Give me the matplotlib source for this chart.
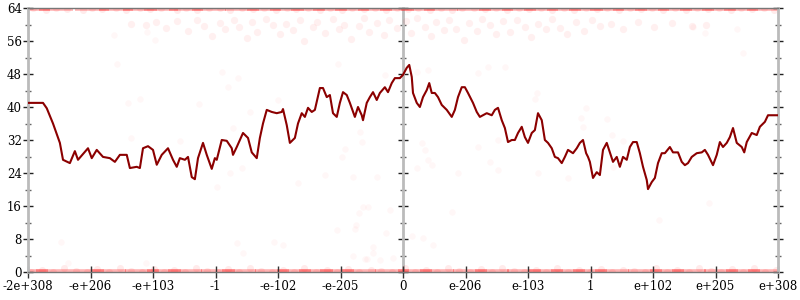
# Recreation of a symmetric log-style scatter + running line chart.

import matplotlib
matplotlib.use("Agg")
import matplotlib.pyplot as plt
from matplotlib.ticker import FixedLocator

# ─────────────────────────────────────────────
# DATA
# ─────────────────────────────────────────────
x_tick_pos = [-6, -5, -4, -3, -2, -1, 0, 1, 2, 3, 4, 5, 6]
x_tick_labels = ["-2e+308", "-e+206", "-e+103", "-1", "-e-102", "-e-205", "0",
                 "e-206", "e-103", "1", "e+102", "e+205", "e+308"]
y_major = [0, 8, 16, 24, 32, 40, 48, 56, 64]
y_minor = [4, 12, 20, 28, 36, 44, 52, 60]

# running line (dark red)
line_x = [-6.00, -5.76, -5.70, -5.60, -5.49, -5.44, -5.33, -5.25, -5.20, -5.04,
          -4.98, -4.90, -4.80, -4.69, -4.61, -4.53, -4.42, -4.37, -4.26, -4.21,
          -4.16, -4.08, -4.00, -3.94, -3.86, -3.76, -3.68, -3.62, -3.57, -3.49,
          -3.44, -3.38, -3.33, -3.28, -3.20, -3.14, -3.06, -3.01, -2.98, -2.90,
          -2.82, -2.74, -2.72, -2.66, -2.56, -2.48, -2.42, -2.34, -2.29, -2.24,
          -2.18, -2.10, -2.02, -1.94, -1.92, -1.86, -1.81, -1.73, -1.68, -1.62,
          -1.57, -1.52, -1.46, -1.41, -1.33, -1.28, -1.22, -1.17, -1.12, -1.06,
          -1.01, -0.96, -0.90, -0.85, -0.77, -0.72, -0.66, -0.64, -0.58, -0.53,
          -0.48, -0.42, -0.37, -0.29, -0.24, -0.18, -0.13, -0.05, 0.00, 0.06,
          0.10, 0.14, 0.16, 0.22, 0.27, 0.32, 0.38, 0.42, 0.46, 0.51,
          0.56, 0.62, 0.70, 0.78, 0.83, 0.88, 0.94, 0.99, 1.04, 1.12,
          1.18, 1.23, 1.28, 1.34, 1.42, 1.47, 1.52, 1.58, 1.63, 1.68,
          1.74, 1.79, 1.84, 1.90, 1.95, 2.00, 2.06, 2.11, 2.16, 2.22,
          2.27, 2.32, 2.38, 2.43, 2.48, 2.54, 2.59, 2.64, 2.72, 2.78,
          2.83, 2.88, 2.93, 2.96, 2.99, 3.04, 3.10, 3.15, 3.20, 3.26,
          3.31, 3.36, 3.42, 3.47, 3.52, 3.58, 3.63, 3.68, 3.74, 3.79,
          3.84, 3.90, 3.92, 3.98, 4.03, 4.08, 4.14, 4.19, 4.27, 4.32,
          4.40, 4.46, 4.51, 4.56, 4.62, 4.70, 4.78, 4.83, 4.88, 4.96,
          5.02, 5.07, 5.12, 5.18, 5.23, 5.28, 5.34, 5.42, 5.46, 5.50,
          5.58, 5.66, 5.71, 5.79, 5.84, 6.00]
line_y = [41.0, 41.0, 39.7, 36.0, 31.3, 27.2, 26.4, 29.3, 27.2, 30.0,
          27.6, 29.6, 27.9, 27.6, 26.7, 28.4, 28.4, 25.2, 25.5, 25.2,
          30.0, 30.5, 29.6, 26.0, 28.4, 30.0, 27.2, 25.5, 27.6, 27.2,
          27.9, 23.0, 22.5, 27.6, 31.3, 28.4, 25.0, 27.6, 27.2, 32.0,
          31.8, 30.0, 28.4, 30.3, 33.7, 32.5, 29.0, 27.6, 32.5, 36.0,
          39.3, 38.8, 38.5, 38.8, 39.5, 35.6, 31.3, 32.5, 36.0, 38.5,
          37.6, 39.8, 38.8, 39.3, 44.6, 44.6, 42.4, 42.9, 38.5, 37.6,
          41.0, 43.6, 42.9, 41.0, 37.6, 40.0, 38.0, 36.8, 41.0, 42.4,
          43.6, 41.7, 43.4, 44.8, 43.6, 45.8, 47.0, 47.0, 47.8, 49.5,
          50.2, 47.3, 43.4, 41.0, 40.0, 42.4, 44.1, 45.8, 43.4, 43.4,
          42.4, 40.5, 39.3, 37.6, 39.3, 42.4, 44.8, 44.8, 43.4, 41.0,
          38.8, 37.6, 38.0, 38.5, 38.0, 39.3, 39.8, 36.8, 34.9, 31.5,
          32.0, 32.0, 33.7, 35.2, 32.7, 31.3, 33.7, 34.4, 38.5, 36.8,
          32.0, 31.3, 30.0, 27.9, 27.6, 26.4, 27.9, 29.6, 28.8, 30.0,
          31.3, 32.0, 28.8, 27.9, 26.7, 22.8, 24.2, 23.5, 29.6, 31.3,
          29.0, 26.7, 27.9, 25.5, 27.9, 27.2, 30.3, 31.5, 31.5, 28.8,
          25.5, 22.3, 20.1, 21.8, 22.8, 26.4, 28.8, 28.8, 30.3, 29.0,
          29.0, 26.7, 25.9, 26.4, 27.9, 28.8, 29.0, 29.6, 28.4, 25.9,
          28.4, 31.5, 30.3, 31.3, 32.7, 34.9, 31.3, 30.3, 29.0, 31.5,
          33.7, 33.2, 35.2, 36.4, 38.0, 38.0]

# faint samples pinned at the top of the range
top_x = [-5.92, -5.71, -5.55, -5.38, -5.12, -4.97, -4.81, -4.60, -4.44, -4.21,
         -4.05, -3.88, -3.62, -3.47, -3.30, -3.11, -2.93, -2.77, -2.58, -2.40,
         -2.22, -2.03, -1.86, -1.71, -1.52, -1.33, -1.17, -0.98, -0.81, -0.62,
         -0.45, -0.27, -0.09, 0.08, 0.24, 0.43, 0.61, 0.79, 0.95, 1.14,
         1.31, 1.49, 1.66, 1.85, 2.02, 2.21, 2.38, 2.57, 2.74, 2.92,
         3.10, 3.27, 3.46, 3.63, 3.81, 3.99, 4.16, 4.35, 4.52, 4.70,
         4.88, 5.05, 5.24, 5.41, 5.59, 5.77, 5.94]
top_y = [64.0, 63.6, 64.0, 63.8, 63.5, 64.0, 63.7, 64.0, 63.4, 64.0,
         63.8, 64.0, 63.6, 64.0, 63.5, 64.0, 63.9, 63.4, 64.0, 63.7,
         64.0, 63.5, 64.0, 63.8, 64.0, 63.6, 64.0, 63.4, 64.0, 63.7,
         64.0, 63.5, 64.0, 63.8, 64.0, 63.6, 64.0, 63.4, 63.9, 64.0,
         63.7, 64.0, 63.5, 64.0, 63.8, 64.0, 63.6, 64.0, 63.4, 64.0,
         63.7, 64.0, 63.5, 64.0, 63.8, 64.0, 63.6, 64.0, 63.4, 64.0,
         63.7, 64.0, 63.5, 64.0, 63.8, 64.0, 63.6]

# faint samples pinned at the bottom of the range
bottom_x = [-5.95, -5.78, -5.60, -5.43, -5.24, -5.06, -4.90, -4.71, -4.53, -4.36,
            -4.17, -3.99, -3.83, -3.66, -3.49, -3.31, -3.14, -2.96, -2.80, -2.63,
            -2.45, -2.27, -2.10, -1.92, -1.75, -1.58, -1.40, -1.22, -1.05, -0.88,
            -0.70, -0.52, -0.35, -0.17, 0.03, 0.19, 0.37, 0.54, 0.72, 0.89,
            1.07, 1.24, 1.42, 1.59, 1.77, 1.94, 2.12, 2.29, 2.47, 2.64,
            2.82, 2.99, 3.17, 3.34, 3.52, 3.69, 3.87, 4.04, 4.22, 4.39,
            4.57, 4.74, 4.92, 5.09, 5.27, 5.44, 5.62, 5.79, 5.96]
bottom_y = [0.0, 0.6, 0.0, 0.9, 0.2, 0.0, 0.7, 0.0, 1.0, 0.3,
            0.0, 0.8, 0.0, 0.5, 0.0, 1.0, 0.2, 0.0, 0.7, 0.0,
            0.9, 0.3, 0.0, 0.6, 0.0, 1.0, 0.0, 0.4, 0.0, 0.8,
            0.0, 0.6, 0.2, 0.0, 0.9, 0.0, 0.5, 0.0, 1.0, 0.3,
            0.0, 0.7, 0.0, 0.9, 0.2, 0.0, 0.6, 0.0, 1.0, 0.0,
            0.4, 0.0, 0.8, 0.0, 0.6, 0.2, 0.0, 0.9, 0.0, 0.5,
            0.0, 1.0, 0.3, 0.0, 0.7, 0.0, 0.9, 0.0, 0.5]

# faint cloud just under the top
cluster_x = [-4.35, -4.12, -3.95, -3.80, -3.61, -3.44, -3.30, -3.18, -3.05, -2.93,
             -2.85, -2.71, -2.62, -2.50, -2.41, -2.33, -2.19, -2.08, -1.97, -1.88,
             -1.76, -1.65, -1.58, -1.44, -1.37, -1.25, -1.12, -1.03, -0.94, -0.83,
             -0.71, -0.62, -0.55, -0.41, -0.30, -0.22, -0.10, 0.04, 0.12, 0.23,
             0.35, 0.44, 0.52, 0.66, 0.73, 0.85, 0.97, 1.06, 1.18, 1.27,
             1.39, 1.48, 1.60, 1.71, 1.82, 1.95, 2.04, 2.16, 2.29, 2.38,
             2.51, 2.63, 2.77, 2.90, 3.02, 3.15, 3.33, 3.52, 3.76, 4.01,
             4.30, 4.62, 4.85]
cluster_y = [60.2, 59.8, 60.5, 59.1, 60.8, 58.4, 61.0, 59.6, 57.2, 60.3,
             58.9, 61.2, 59.4, 56.8, 60.6, 58.1, 61.4, 59.9, 57.7, 60.1,
             58.6, 61.1, 55.9, 59.3, 60.7, 57.9, 61.3, 58.8, 60.0, 56.5,
             59.7, 61.5, 58.3, 60.4, 57.4, 61.0, 59.2, 60.9, 58.0, 61.6,
             59.5, 57.1, 60.6, 58.7, 61.2, 59.0, 56.2, 60.3, 58.5, 61.4,
             59.8, 57.6, 60.8, 58.2, 61.1, 59.4, 56.9, 60.2, 58.8, 61.3,
             59.1, 57.8, 60.5, 58.4, 61.0, 59.6, 60.1, 58.9, 60.7, 59.3,
             60.4, 59.7, 60.0]

# scattered single samples
sparse_x = [-4.62, -4.58, -4.10, -3.97, -5.47, -5.36, -4.11, -4.40, -4.21, -3.26,
            -4.35, -3.57, -2.90, -2.64, -2.80, -2.45, -2.00, -2.72, -1.04, -0.29,
            -0.69, -0.66, -0.93, -0.98, -1.25, -0.80, -0.42, -1.68, -2.98, -2.58,
            -2.77, 0.22, 0.40, 1.20, 1.36, 1.63, 2.14, 2.11, 2.93, 2.85,
            2.88, 1.52, 0.30, 0.35, 1.20, 0.40, 0.46, 0.22, 1.39, 0.88,
            1.52, 2.16, 2.64, -0.64, -0.56, -0.70, -0.21, -0.75, -0.77, -1.06,
            -0.27, 0.14, 0.32, 0.48, -0.48, -0.48, -0.80, -0.61, -0.58, 0.78,
            -2.66, -2.56, -1.92, -2.06, 4.09, 4.90, 3.26, 3.34, 3.52, 3.36,
            5.44, 5.34, 4.83, 4.64, -0.16, -0.37]
sparse_y = [57.5, 50.4, 58.2, 56.2, 7.3, 2.2, 2.2, 41.0, 42.0, 40.7,
            32.5, 31.8, 48.5, 47.0, 44.8, 38.8, 41.7, 35.0, 50.4, 47.8,
            34.0, 31.5, 29.8, 27.9, 23.5, 23.0, 23.0, 21.6, 20.6, 25.2,
            24.0, 48.5, 49.0, 48.2, 49.7, 49.7, 43.4, 42.0, 39.8, 37.3,
            35.2, 32.0, 31.3, 29.6, 30.3, 27.2, 25.9, 25.2, 26.7, 24.0,
            24.7, 24.0, 22.8, 15.8, 15.8, 14.3, 15.0, 11.4, 10.4, 10.2,
            9.5, 8.7, 8.2, 6.5, 6.1, 4.6, 3.9, 3.1, 3.1, 14.5,
            7.0, 4.6, 6.5, 7.3, 12.6, 16.7, 37.0, 33.2, 31.8, 25.5,
            53.0, 58.9, 57.9, 59.4, 3.4, 2.9]

# ─────────────────────────────────────────────
# PLOT
# ─────────────────────────────────────────────
plt.rcParams['font.family'] = ['DejaVu Serif']

fig = plt.figure(figsize=(8, 3), dpi=100)
ax = fig.add_axes([28 / 800, 28 / 300, 750 / 800, 264 / 300])

dot_color = '#ff0000'
ax.scatter(cluster_x, cluster_y, s=28, color=dot_color, alpha=0.06, linewidths=0, zorder=1)
ax.scatter(sparse_x, sparse_y, s=22, color=dot_color, alpha=0.03, linewidths=0, zorder=1)

# samples sitting exactly on the limits overlap into a thin edge band
top_edge = [x for x, y in zip(top_x, top_y) if y == 64.0]
bottom_edge = [x for x, y in zip(bottom_x, bottom_y) if y == 0.0]
ax.plot(top_edge, [64.0] * len(top_edge), linestyle='none', marker='_',
        markersize=24, markeredgewidth=4, color=dot_color, alpha=0.3, zorder=1)
ax.plot(bottom_edge, [0.0] * len(bottom_edge), linestyle='none', marker='_',
        markersize=24, markeredgewidth=4, color=dot_color, alpha=0.3, zorder=1)
ax.scatter(top_x, top_y, s=26, color=dot_color, alpha=0.08, linewidths=0, zorder=1)
ax.scatter(bottom_x, bottom_y, s=26, color=dot_color, alpha=0.08, linewidths=0, zorder=1)

ax.plot(line_x, line_y, color='#8b0000', lw=1.5, zorder=3)

ax.set_xlim(-6, 6)
ax.set_ylim(0, 64)

# axes / spines
spine_gray = '#bbbbbb'
for side in ('left', 'right'):
    ax.spines[side].set_color(spine_gray)
    ax.spines[side].set_linewidth(2)
for side in ('top', 'bottom'):
    ax.spines[side].set_color('#777777')
    ax.spines[side].set_linewidth(1)

ax.set_xticks(x_tick_pos)
ax.set_xticklabels(x_tick_labels)
ax.set_yticks(y_major)
ax.yaxis.set_minor_locator(FixedLocator(y_minor))
ax.tick_params(axis='x', direction='inout', length=8, width=1, color='#333333',
               labelsize=8.5, pad=2)
ax.tick_params(axis='y', which='major', direction='inout', length=7, width=1,
               color='#222222', labelsize=8.5, pad=1, right=True)
ax.tick_params(axis='y', which='minor', direction='inout', length=5, width=1,
               color='#666666', right=True)

# centre axis at zero
mid = ax.secondary_yaxis(0.5)
for side in ('left', 'right'):
    mid.spines[side].set_color(spine_gray)
    mid.spines[side].set_linewidth(2)
mid.set_yticks(y_major)
mid.yaxis.set_minor_locator(FixedLocator(y_minor))
mid.tick_params(which='major', direction='inout', length=7, width=1,
                color='#222222', labelleft=False, labelright=False)
mid.tick_params(which='minor', direction='inout', length=5, width=1,
                color='#666666', labelleft=False, labelright=False)

plt.savefig("out.png", dpi=100)
